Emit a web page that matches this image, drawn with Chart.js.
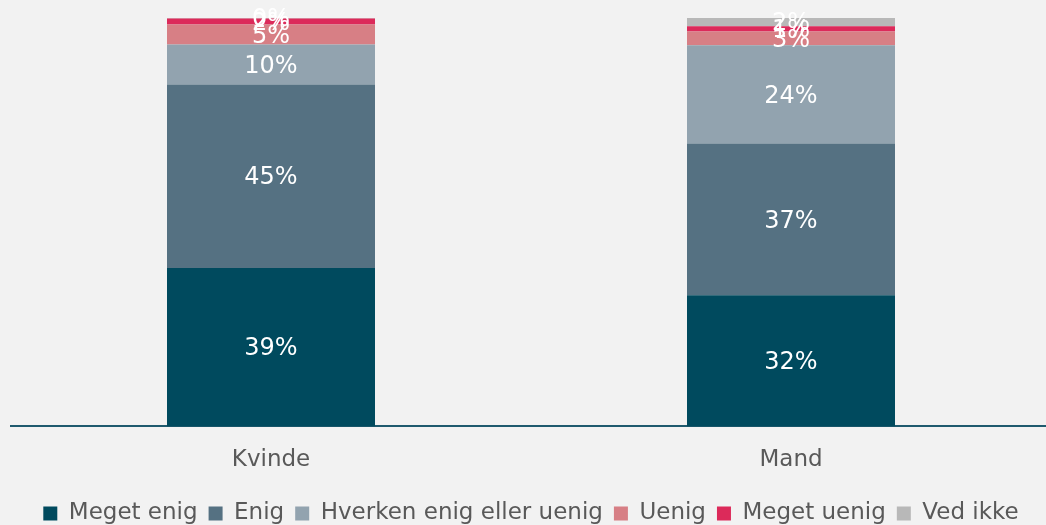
<!DOCTYPE html>
<html>
<head>
<meta charset="utf-8">
<script src="https://cdn.jsdelivr.net/npm/chart.js@4.4.1/dist/chart.umd.min.js"></script>
<style>
  html, body { margin: 0; padding: 0; background: #f2f2f2; overflow: hidden; }
  #wrap { width: 1051px; height: 525px; }
</style>
</head>
<body>
<div id="wrap"><canvas id="chart"></canvas></div>
<script>
const categories = ["Kvinde", "Mand"];
const seriesNames = ["Meget enig", "Enig", "Hverken enig eller uenig", "Uenig", "Meget uenig", "Ved ikke"];
const megetEnig = [38.8, 32.1];
const enig = [44.9, 37.2];
const hverken = [9.8, 24.0];
const uenig = [4.9, 3.4];
const megetUenig = [1.5, 1.3];
const vedIkke = [0.1, 2.0];
const colors = ["#004a5e", "#557182", "#92a3af", "#d77f85", "#dc2a5a", "#b8b8b8"];

const allValues = [megetEnig, enig, hverken, uenig, megetUenig, vedIkke];
const fontFam = "'DejaVu Sans', Verdana, sans-serif";

// draw the % labels in the middle of each segment
const barLabels = {
  id: "barLabels",
  afterDatasetsDraw(chart) {
    const ctx = chart.ctx;
    ctx.save();
    ctx.fillStyle = "#ffffff";
    ctx.font = "24px " + fontFam;
    ctx.textAlign = "center";
    ctx.textBaseline = "middle";
    chart.data.datasets.forEach((ds, i) => {
      const meta = chart.getDatasetMeta(i);
      meta.data.forEach((el, j) => {
        const y = (el.y + el.base) / 2 + 2;
        ctx.fillText(Math.round(ds.data[j]) + "%", el.x, y);
      });
    });
    ctx.restore();
  }
};

new Chart(document.getElementById("chart"), {
  type: "bar",
  data: {
    labels: categories,
    datasets: seriesNames.map((name, i) => ({
      label: name,
      data: allValues[i],
      backgroundColor: colors[i],
      barPercentage: 0.4,
      categoryPercentage: 1
    }))
  },
  options: {
    responsive: true,
    maintainAspectRatio: false,
    animation: false,
    layout: { padding: { top: 18, left: 11, right: 0, bottom: -10 } },
    plugins: {
      tooltip: { enabled: false },
      legend: {
        position: "bottom",
        labels: {
          boxWidth: 14,
          boxHeight: 14,
          padding: 11,
          color: "#595959",
          font: { family: fontFam, size: 23 }
        }
      }
    },
    scales: {
      x: {
        stacked: true,
        grid: { display: false },
        border: { color: "#1f5a6e", width: 2 },
        ticks: { color: "#595959", padding: 12, font: { family: fontFam, size: 23 } },
        afterFit(scale) { scale.height += 5; }
      },
      y: {
        stacked: true,
        display: false,
        min: 0,
        max: 100
      }
    }
  },
  plugins: [barLabels]
});
</script>
</body>
</html>
